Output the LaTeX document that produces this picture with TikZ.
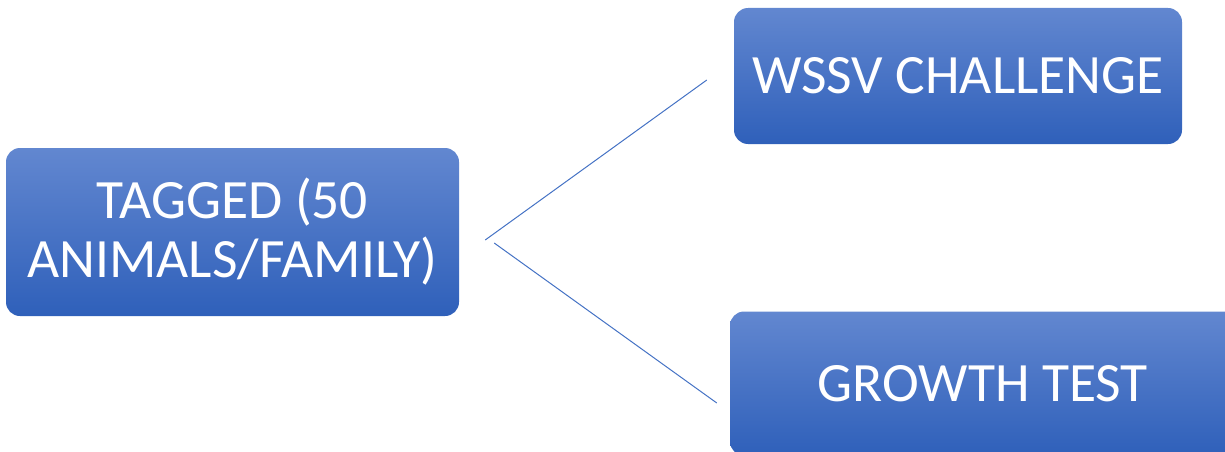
\documentclass[tikz,border=0pt]{standalone}
\usepackage{fontspec}
\setmainfont{Carlito}
\usetikzlibrary{calc}
\definecolor{boxtop}{RGB}{98,135,208}
\definecolor{boxbot}{RGB}{47,96,186}
\definecolor{linkblue}{RGB}{68,114,196}
\tikzset{
  bluebox/.style={rectangle, rounded corners=14pt, top color=boxtop, bottom color=boxbot,
    draw=none, inner sep=0pt, text=white, align=center,
    font=\fontsize{55.5}{59}\selectfont},
  link/.style={draw=linkblue, line width=1pt}
}
\begin{document}
\begin{tikzpicture}[x=1pt,y=-1pt]
\useasboundingbox (0,0) rectangle (1225,452);
\begin{scope}
\clip (0,0) rectangle (1225,452);
\node[bluebox, minimum width=453pt, minimum height=168pt] (tag) at (232.5,232) {TAGGED (50\\ANIMALS/FAMILY)};
\node[bluebox, minimum width=448pt, minimum height=136pt] (wssv) at (958,76) {WSSV CHALLENGE};
\node[bluebox, minimum width=515pt, minimum height=144pt] (growth) at (987.5,383.5) {\hspace*{-9pt}GROWTH TEST};
\coordinate (s1) at ($(tag.east)+(26,8)$);
\coordinate (e1) at ($(wssv.west)+(-27,4)$);
\coordinate (s2) at ($(tag.east)+(35,11)$);
\coordinate (e2) at ($(growth.west)+(-13,19.5)$);
\draw[link] (s1) -- (e1);
\draw[link] (s2) -- (e2);
\end{scope}
\end{tikzpicture}
\end{document}
